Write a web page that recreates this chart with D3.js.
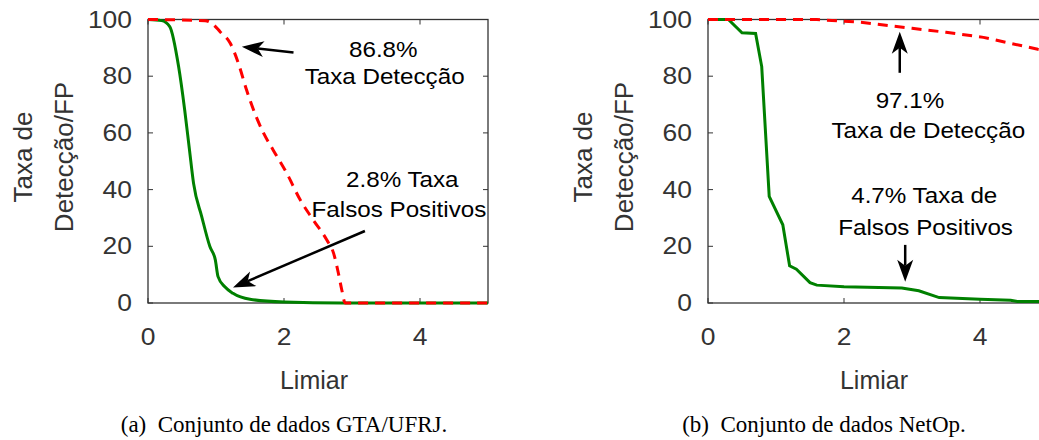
<!DOCTYPE html>
<html>
<head>
<meta charset="utf-8">
<script src="https://cdn.jsdelivr.net/npm/d3@7/dist/d3.min.js"></script>
<style>
body { margin: 0; background: #fff; }
text { font-family: "Liberation Sans", Helvetica, Arial, sans-serif; }
.cap { font-family: "Liberation Serif", "Times New Roman", serif; }
</style>
</head>
<body>
<svg width="1039" height="440"></svg>
<script>
// eixos
var xTicks = [0, 2, 4];
var yTicks = [0, 20, 40, 60, 80, 100];

// (a) GTA/UFRJ  [limiar, %]
var gtaFP = [[0,100],[0.2,99.6],[0.32,97.5],[0.45,83.4],[0.54,68],[0.61,54],[0.67,42.2],[0.79,30.5],
    [0.91,19.9],[0.99,15.2],[1.03,9.3],[1.13,5.7],[1.25,3.4],[1.5,1.3],[2.0,0.35],[2.85,0],[5,0]];
var gtaDet = [[0,100],[0.84,99.6],[0.94,98.6],[1.06,95.7],[1.21,91.6],[1.33,84.5],[1.45,75.1],[1.6,65.2],
    [1.7,59.9],[1.84,54],[2.04,45.8],[2.24,36.3],[2.43,29.3],[2.63,22.2],[2.73,17.5],[2.8,10.5],
    [2.85,4.6],[2.9,0],[5,0]];

// (b) NetOp
var netFP = [[0,100],[0.3,100],[0.5,95.3],[0.7,95.1],[0.79,83.4],[0.9,37.6],[1.1,27.6],[1.2,13.1],
    [1.3,11.9],[1.5,7.2],[1.6,6.3],[2.0,5.7],[2.85,5.3],[3.1,4.3],[3.4,1.9],[4.0,1.3],[4.45,1.0],
    [4.55,0.5],[5,0.5]];
var netDet = [[0,100],[1.6,100],[2.0,99.4],[2.25,99],[2.7,97.7],[3.0,96.9],[3.5,95.5],[4.05,93.7],
    [4.45,91.6],[4.85,89.5],[5,88.8]];

// anotacoes: setas [x1,y1,x2,y2] (cauda -> ponta), textos [x, y, texto]
var gtaArrows = [[2.14,88.4,1.38,90.4],[3.19,25.4,1.25,5.5]];
var gtaNotes = [[3.46,86.8,"86.8%"],[3.48,77.2,"Taxa Detecção"],[3.74,41.0,"2.8% Taxa"],[3.69,30.4,"Falsos Positivos"]];
var netArrows = [[2.82,81.2,2.82,95.7],[2.9,20.5,2.9,7.5]];
var netNotes = [[2.97,68.7,"97.1%"],[3.24,58.1,"Taxa de Detecção"],[3.18,35.2,"4.7% Taxa de"],[3.2,24,"Falsos Positivos"]];

var panels = [
    {left: 148, fp: gtaFP, det: gtaDet, curve: d3.curveMonotoneX, arrows: gtaArrows, notes: gtaNotes,
     caption: "(a)\u2002Conjunto de dados GTA/UFRJ.", capX: 284, ylab: [32, 73]},
    {left: 708, fp: netFP, det: netDet, curve: d3.curveLinear, arrows: netArrows, notes: netNotes,
     caption: "(b)\u2002Conjunto de dados NetOp.", capX: 824, ylab: [592, 633]}
];

var W = 340, H = 283.5, TOP = 19.5;
var svg = d3.select("svg");
var axisCol = "#333";

panels.forEach(function (p) {
    var x = d3.scaleLinear().domain([0, 5]).range([0, W]);
    var y = d3.scaleLinear().domain([0, 100]).range([H, 0]);
    var g = svg.append("g").attr("transform", "translate(" + p.left + "," + TOP + ")");

    // ticks para dentro, nos quatro lados
    xTicks.forEach(function (t) {
        g.append("line").attr("x1", x(t)).attr("x2", x(t)).attr("y1", H).attr("y2", H - 5).attr("stroke", axisCol);
        g.append("line").attr("x1", x(t)).attr("x2", x(t)).attr("y1", 0).attr("y2", 5).attr("stroke", axisCol);
        g.append("text").attr("transform", "translate(" + x(t) + "," + (H + 42) + ") scale(1.15,1)")
            .attr("text-anchor", "middle").attr("font-size", 23).attr("fill", "#333").text(t);
    });
    yTicks.forEach(function (t) {
        g.append("line").attr("x1", 0).attr("x2", 5).attr("y1", y(t)).attr("y2", y(t)).attr("stroke", axisCol);
        g.append("line").attr("x1", W).attr("x2", W - 5).attr("y1", y(t)).attr("y2", y(t)).attr("stroke", axisCol);
        g.append("text").attr("transform", "translate(-16," + (y(t) + 8) + ") scale(1.15,1)")
            .attr("text-anchor", "end").attr("font-size", 23).attr("fill", "#333").text(t);
    });
    g.append("rect").attr("width", W).attr("height", H).attr("fill", "none")
        .attr("stroke", axisCol).attr("stroke-width", 1.3);

    var line = d3.line().x(function (d) { return x(d[0]); }).y(function (d) { return y(d[1]); }).curve(p.curve);
    g.append("path").attr("d", line(p.fp)).attr("fill", "none")
        .attr("stroke", "#008000").attr("stroke-width", 3);
    g.append("path").attr("d", line(p.det)).attr("fill", "none")
        .attr("stroke", "#ff0000").attr("stroke-width", 3).attr("stroke-dasharray", "10,7");

    // setas
    p.arrows.forEach(function (a) {
        var x1 = x(a[0]), y1 = y(a[1]), x2 = x(a[2]), y2 = y(a[3]);
        var ang = Math.atan2(y2 - y1, x2 - x1), L = 22, hw = 8, notch = 16;
        var c = Math.cos(ang), s = Math.sin(ang);
        var bx = x2 - L * c, by = y2 - L * s;
        var nx = x2 - notch * c, ny = y2 - notch * s;
        g.append("line").attr("x1", x1).attr("y1", y1).attr("x2", nx).attr("y2", ny)
            .attr("stroke", "#000").attr("stroke-width", 2.5);
        g.append("path").attr("d", "M" + x2 + "," + y2 +
                "L" + (bx - hw * s) + "," + (by + hw * c) +
                "L" + nx + "," + ny +
                "L" + (bx + hw * s) + "," + (by - hw * c) + "Z")
            .attr("fill", "#000");
    });
    p.notes.forEach(function (n) {
        g.append("text").attr("transform", "translate(" + x(n[0]) + "," + y(n[1]) + ") scale(1.1,1)")
            .attr("text-anchor", "middle").attr("font-size", 22).attr("fill", "#000").text(n[2]);
    });

    // rotulos
    g.append("text").attr("x", W / 2 - 4).attr("y", H + 86).attr("text-anchor", "middle")
        .attr("font-size", 25).attr("fill", "#333").text("Limiar");
    svg.append("text").attr("transform", "translate(" + p.ylab[0] + ",157) rotate(-90)")
        .attr("text-anchor", "middle").attr("font-size", 26).attr("fill", "#333").text("Taxa de");
    svg.append("text").attr("transform", "translate(" + p.ylab[1] + ",157) rotate(-90)")
        .attr("text-anchor", "middle").attr("font-size", 26).attr("fill", "#333").text("Detecção/FP");
    svg.append("text").attr("class", "cap").attr("x", p.capX).attr("y", 432).attr("text-anchor", "middle")
        .attr("font-size", 23).attr("fill", "#000").text(p.caption);
});
</script>
</body>
</html>
